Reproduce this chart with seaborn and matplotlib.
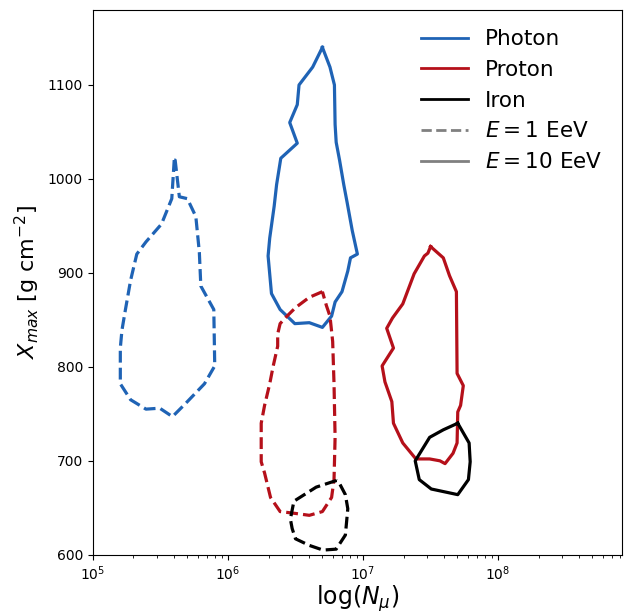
import numpy as np
import pandas as pd
import matplotlib
matplotlib.use("Agg")
import matplotlib.pyplot as plt
from matplotlib.lines import Line2D
import seaborn as sns

# ── CONTOUR DATA (log10 N_mu, Xmax) ─────────────────────────────────────────
photon_1_logn = [5.603, 5.585, 5.509, 5.394, 5.326, 5.280, 5.242, 5.216, 5.204, 5.204,
                 5.280, 5.394, 5.496, 5.590, 5.687, 5.827, 5.903, 5.896, 5.800, 5.789,
                 5.763, 5.700, 5.641, 5.610, 5.603]
photon_1_xmax = [1020, 979, 952, 933, 920, 892, 861, 839, 820, 782,
                 765, 755, 756, 747, 761, 782, 801, 861, 886, 922,
                 960, 979, 981, 1020, 1020]

photon_10_logn = [6.700, 6.628, 6.527, 6.514, 6.458, 6.514, 6.392, 6.361, 6.343, 6.310,
                  6.298, 6.323, 6.387, 6.496, 6.603, 6.700, 6.768, 6.794, 6.845, 6.888,
                  6.908, 6.959, 6.921, 6.883, 6.858, 6.827, 6.802, 6.794, 6.789, 6.756, 6.700]
photon_10_xmax = [1140, 1119, 1100, 1079, 1060, 1038, 1022, 994, 971, 937,
                  918, 878, 861, 846, 847, 842, 854, 869, 880, 902,
                  916, 920, 945, 975, 994, 1020, 1039, 1058, 1100, 1119, 1140]

proton_1_logn = [6.700, 6.603, 6.501, 6.438, 6.387, 6.369, 6.369, 6.336, 6.310, 6.272,
                 6.247, 6.247, 6.272, 6.316, 6.387, 6.501, 6.603, 6.700, 6.768, 6.786,
                 6.794, 6.786, 6.776, 6.756, 6.730, 6.700]
proton_1_xmax = [880, 874, 863, 854, 846, 835, 822, 801, 782, 759,
                 740, 699, 687, 661, 646, 644, 642, 646, 661, 680,
                 725, 782, 827, 854, 865, 880]

proton_10_logn = [7.501, 7.595, 7.641, 7.692, 7.697, 7.743, 7.723, 7.702, 7.697, 7.667,
                  7.608, 7.570, 7.494, 7.392, 7.295, 7.226, 7.214, 7.163, 7.142, 7.226,
                  7.176, 7.219, 7.295, 7.379, 7.455, 7.481, 7.501]
proton_10_xmax = [928, 916, 897, 880, 793, 780, 759, 752, 719, 708,
                  697, 700, 702, 702, 719, 740, 763, 784, 801, 820,
                  841, 852, 867, 899, 918, 921, 928]

iron_1_logn = [6.802, 6.654, 6.489, 6.463, 6.476, 6.501, 6.603, 6.705, 6.802, 6.870,
               6.888, 6.870, 6.819, 6.802]
iron_1_xmax = [679, 672, 657, 638, 628, 617, 610, 605, 606, 621,
               649, 664, 678, 679]

iron_10_logn = [7.702, 7.786, 7.794, 7.781, 7.702, 7.506, 7.417, 7.387, 7.494, 7.595, 7.702]
iron_10_xmax = [740, 719, 699, 680, 664, 670, 680, 700, 725, 733, 740]

BLUE, RED, BLACK = "#1f63b5", "#b5101a", "black"

contours = [
    (photon_1_logn, photon_1_xmax, BLUE, "--"),
    (photon_10_logn, photon_10_xmax, BLUE, "-"),
    (proton_1_logn, proton_1_xmax, RED, "--"),
    (proton_10_logn, proton_10_xmax, RED, "-"),
    (iron_1_logn, iron_1_xmax, BLACK, "--"),
    (iron_10_logn, iron_10_xmax, BLACK, "-"),
]

# ── PLOT ────────────────────────────────────────────────────────────────────
fig = plt.figure(figsize=(6.31, 6.11), dpi=100)
ax = fig.add_axes([0.147, 0.092, 0.839, 0.892])

for logn, xmax, col, ls in contours:
    d = pd.DataFrame({"N": 10 ** np.array(logn), "X": xmax})
    sns.lineplot(data=d, x="N", y="X", sort=False, estimator=None,
                 color=col, linestyle=ls, linewidth=2.3, ax=ax)

ax.set_xscale("log")
ax.set_xlim(1e5, 8.3e8)
ax.set_ylim(600, 1180)
ax.set_xlabel(r"log($N_\mu$)", fontsize=17, labelpad=0)
ax.set_ylabel(r"$X_{max}$ [g cm$^{-2}$]", fontsize=16)

handles = [Line2D([], [], color=BLUE, lw=2),
           Line2D([], [], color=RED, lw=2),
           Line2D([], [], color=BLACK, lw=2),
           Line2D([], [], color="grey", lw=2, ls="--"),
           Line2D([], [], color="grey", lw=2)]
labels = ["Photon", "Proton", "Iron", r"$E = 1$ EeV", r"$E = 10$ EeV"]
ax.legend(handles, labels, loc="upper right", fontsize=15.5, frameon=False,
          handlelength=2.2, labelspacing=0.5)

plt.savefig("out.png", dpi=100)
